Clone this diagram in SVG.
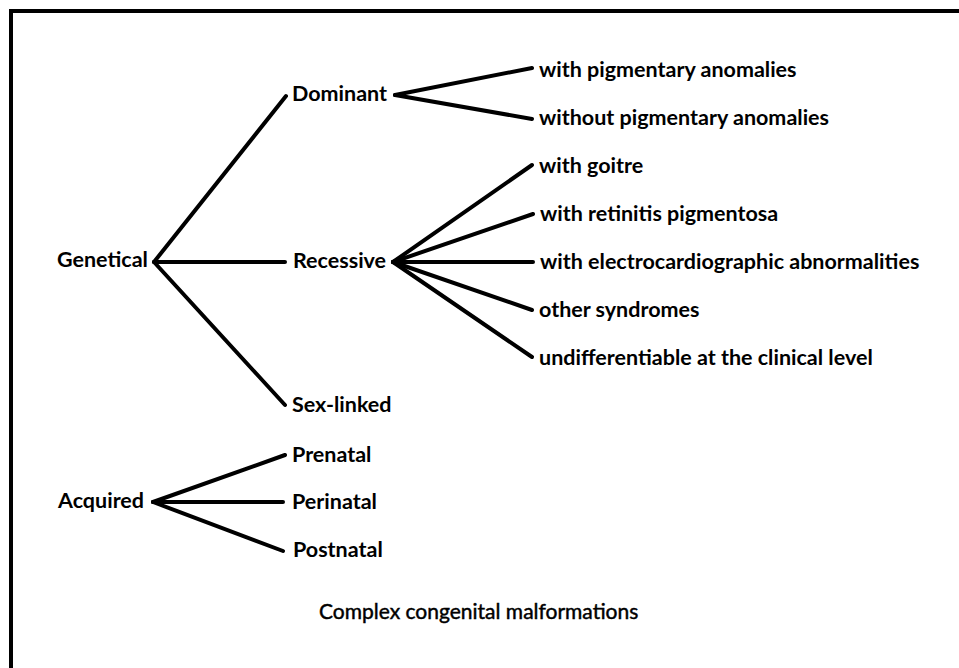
<svg xmlns="http://www.w3.org/2000/svg" width="959" height="668" viewBox="0 0 959 668">
<style>
.lbl{font-family:Lato,"Open Sans","Liberation Sans",sans-serif;font-weight:bold;font-size:21.5px;fill:#000}
.cap{font-family:Lato,"Open Sans","Liberation Sans",sans-serif;font-weight:normal;font-size:21px;fill:#000;stroke:#000;stroke-width:0.45}
.ln{stroke:#000;stroke-width:4;stroke-linecap:round;fill:none}
.frame{stroke:#000;stroke-width:4;fill:none}
</style>
<rect width="959" height="668" fill="#fff"/>
<path class="frame" d="M11 668 V11 H959"/>
<g id="connectors">
<line class="ln" x1="154" y1="262" x2="286" y2="96"/>
<line class="ln" x1="154" y1="262" x2="285" y2="262"/>
<line class="ln" x1="154" y1="262" x2="285" y2="405"/>
<line class="ln" x1="395" y1="95" x2="532" y2="68"/>
<line class="ln" x1="395" y1="95" x2="532" y2="119"/>
<line class="ln" x1="393" y1="262" x2="532" y2="165"/>
<line class="ln" x1="393" y1="262" x2="533" y2="214"/>
<line class="ln" x1="393" y1="262" x2="533" y2="262"/>
<line class="ln" x1="393" y1="262" x2="532" y2="310"/>
<line class="ln" x1="393" y1="262" x2="532" y2="357"/>
<line class="ln" x1="153" y1="502" x2="285" y2="455"/>
<line class="ln" x1="153" y1="502" x2="283" y2="502"/>
<line class="ln" x1="153" y1="502" x2="283" y2="551"/>
</g>
<g id="genetical"><text class="lbl" x="57" y="267">Genetical</text></g>
<g id="dominant"><text class="lbl" x="292" y="101">Dominant</text></g>
<g id="recessive"><text class="lbl" x="293" y="268">Recessive</text></g>
<g id="sexlinked"><text class="lbl" x="292" y="412">Sex-linked</text></g>
<g id="with-pigmentary"><text class="lbl" x="539" y="77">with pigmentary anomalies</text></g>
<g id="without-pigmentary"><text class="lbl" x="539" y="125">without pigmentary anomalies</text></g>
<g id="goitre"><text class="lbl" x="539" y="173">with goitre</text></g>
<g id="retinitis"><text class="lbl" x="540" y="221">with retinitis pigmentosa</text></g>
<g id="electro"><text class="lbl" x="540" y="269">with electrocardiographic abnormalities</text></g>
<g id="other"><text class="lbl" x="539" y="317">other syndromes</text></g>
<g id="undiff"><text class="lbl" x="539" y="365">undifferentiable at the clinical level</text></g>
<g id="acquired"><text class="lbl" x="58" y="508">Acquired</text></g>
<g id="prenatal"><text class="lbl" x="292" y="462">Prenatal</text></g>
<g id="perinatal"><text class="lbl" x="292" y="509">Perinatal</text></g>
<g id="postnatal"><text class="lbl" x="293" y="557">Postnatal</text></g>
<g id="caption"><text class="cap" x="319" y="619">Complex congenital malformations</text></g>
</svg>
